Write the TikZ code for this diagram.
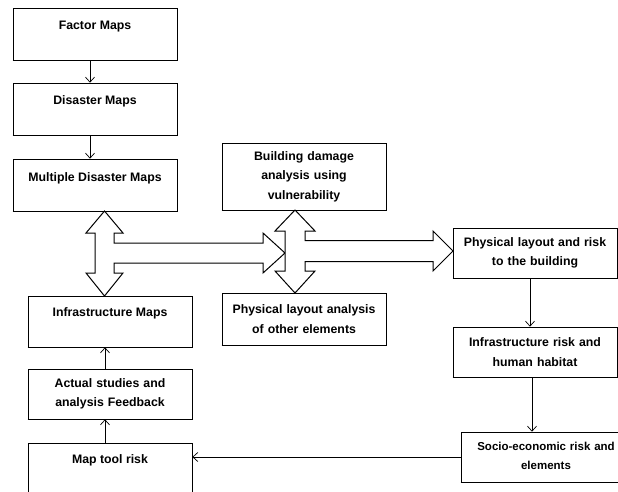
\documentclass[tikz,border=0pt]{standalone}
\usepackage{fontspec}
\setmainfont{Liberation Sans}
\usetikzlibrary{arrows.meta, calc}

\begin{document}
\begin{tikzpicture}[x=1pt, y=-1pt,
    box/.style={draw, line width=0.6pt, minimum width=164pt, align=center,
      font=\fontsize{12.3}{19.5}\selectfont\bfseries, inner xsep=2pt},
    onebox/.style={box, inner ysep=13pt, text height=9pt, text depth=17pt},
    twobox/.style={box, minimum height=50pt, text width=160pt},
    thin/.style={-{Straight Barb[length=5pt,width=9pt]}, line width=0.7pt},
    hollow/.style={draw, fill=white, line width=1pt, line join=miter}]
  \useasboundingbox (0,0) rectangle (618,492);

  %% *** Left column ***
  \node [onebox] (factor) at (95,34) {Factor Maps};
  \node [onebox] (disaster) at (95,109) {Disaster Maps};
  \node [onebox] (multi) at (95,185) {Multiple Disaster Maps};
  \node [onebox, inner ysep=11pt, text depth=20pt] (infra) at (110,321.5) {Infrastructure Maps};
  \node [twobox] (actual) at (110,394) {Actual studies and\\analysis Feedback};
  \node [onebox, inner ysep=11pt, text depth=21pt] (maptool) at (110,469) {Map tool risk};

  %% *** Middle column ***
  \node [twobox, minimum height=67pt] (building) at (304,176.5)
    {Building damage\\analysis using\\vulnerability};
  \node [twobox, minimum height=52pt] (physother) at (304,319)
    {Physical layout analysis\\of other elements};

  %% *** Right column ***
  \node [twobox] (physrisk) at (535,253) {Physical layout and risk\\to the building};
  \node [twobox] (infrarisk) at (535,352) {Infrastructure risk and\\human habitat};
  \node [twobox, minimum width=170pt, text width=166pt,
    font=\fontsize{11.5}{19.5}\selectfont\bfseries] (socio) at (546,457)
    {Socio-economic risk and\\elements\vphantom{p}\\[-6pt]};

  \foreach \n in {factor, disaster, multi, infra, actual, building, physother, physrisk, infrarisk, socio}
    \draw [line width=1.4pt] (\n.south west) -- (\n.south east);

  %% *** Thin arrows ***
  \draw [thin] ([xshift=-5pt]factor.south) -- ([xshift=-5pt]disaster.north);
  \draw [thin] ([xshift=-5pt]disaster.south) -- ([xshift=-5pt]multi.north);
  \draw [thin] ([xshift=-5pt]maptool.north) -- ([xshift=-5pt]actual.south);
  \draw [thin] ([xshift=-5pt]actual.north) -- ([xshift=-5pt]infra.south);
  \draw [thin] ([xshift=-5pt]physrisk.south) -- ([xshift=-5pt]infrarisk.north);
  \draw [thin] ([xshift=-3pt]infrarisk.south) -- ([xshift=-3pt]infrarisk.south |- socio.north);
  \draw [thin] (socio.west) -- (socio.west -| maptool.east);

  %% *** Hollow arrows ***
  \coordinate (hubA) at (104.5,253);
  \coordinate (hubB) at (295,251);
  \begin{scope}[shift={(hubA)}]
    \draw [hollow] (0,-42) -- (18.5,-20) -- (9.5,-20) -- (9.5,-10) -- (158.5,-10)
      -- (158.5,-20) -- (180.5,0) -- (158.5,20) -- (158.5,10) -- (9.5,10)
      -- (9.5,20) -- (18.5,20) -- (0,43) -- (-18.5,20) -- (-9.5,20)
      -- (-9.5,-20) -- (-18.5,-20) -- cycle;
  \end{scope}
  \begin{scope}[shift={(hubB)}]
    \draw [hollow] (0,-41) -- (20,-20) -- (10,-20) -- (10,-10.5) -- (138,-10.5)
      -- (138,-20) -- (158,0) -- (138,20) -- (138,10.5) -- (10,10.5)
      -- (10,20) -- (20,20) -- (0,42) -- (-20,20) -- (-10,20)
      -- (-10,-20) -- (-20,-20) -- cycle;
  \end{scope}
\end{tikzpicture}
\end{document}
